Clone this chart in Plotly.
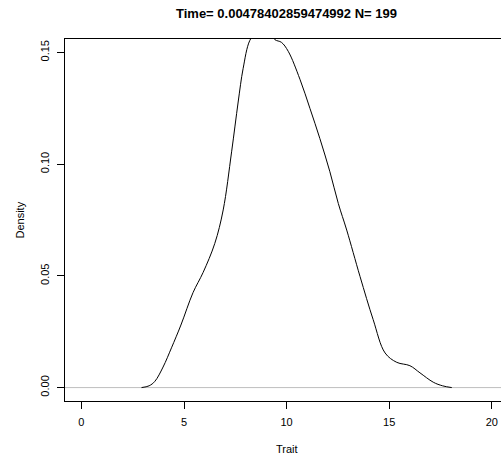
import plotly.graph_objects as go

# Density curve
trait = [2.93, 3.3, 3.58, 3.98, 4.39, 4.85, 5.44, 5.93, 6.5, 6.91, 7.32, 7.64, 7.88,
         8.21, 8.6, 8.9, 9.2, 9.43, 9.75, 10.08, 10.65, 11.14, 11.62, 12.11, 12.52, 12.93,
         13.58, 14.22, 14.80, 15.37, 16.01, 16.50, 17.15, 17.6, 18.05]
density = [0.0, 0.0008, 0.0028, 0.0092, 0.0178, 0.028, 0.0425, 0.0515, 0.0645, 0.0795,
           0.1055, 0.1278, 0.1427, 0.1554, 0.160, 0.161, 0.159, 0.1557, 0.1545, 0.1505, 0.138,
           0.1249, 0.1115, 0.0966, 0.0824, 0.0705, 0.0497, 0.0304, 0.0155, 0.0113, 0.0098,
           0.0066, 0.0024, 0.0008, 0.0]

x_ticks = [0, 5, 10, 15, 20]
y_ticks = [0.0, 0.05, 0.10, 0.15]
y_tick_labels = ["0.00", "0.05", "0.10", "0.15"]

title_text = "Time= 0.00478402859474992 N= 199"

FONT = "Liberation Sans, Arial, Helvetica, sans-serif"

fig = go.Figure()
fig.add_trace(go.Scatter(x=trait, y=density, mode="lines",
                         line=dict(color="black", width=1, shape="spline", smoothing=1.0),
                         hoverinfo="skip", showlegend=False))

fig.add_shape(type="line", xref="paper", yref="y", x0=0, x1=1, y0=0, y1=0,
              line=dict(color="#bebebe", width=1), layer="below")

fig.update_layout(
    width=501, height=456,
    margin=dict(l=65, r=0, t=39, b=55),
    paper_bgcolor="white", plot_bgcolor="white",
    font=dict(family=FONT, size=11, color="black"),
    showlegend=False,
    xaxis=dict(range=[-0.8, 20.45], tickmode="array", tickvals=x_ticks,
               ticks="outside", ticklen=7, tickwidth=1, tickcolor="black",
               showline=True, linecolor="black", linewidth=1, mirror=True,
               showgrid=False, zeroline=False, ticklabelstandoff=4,
               tickfont=dict(size=11, color="black", family=FONT)),
    yaxis=dict(range=[-0.006, 0.156], tickmode="array", tickvals=y_ticks,
               ticktext=y_tick_labels, tickangle=-90,
               ticks="outside", ticklen=7, tickwidth=1, tickcolor="black",
               showline=True, linecolor="black", linewidth=1, mirror=False,
               showgrid=False, zeroline=False, ticklabelstandoff=4,
               tickfont=dict(size=11, color="black", family=FONT)),
    annotations=[
        dict(text="<b>" + title_text + "</b>", xref="x", yref="paper", x=10, y=1 + 26 / 362,
             xanchor="center", yanchor="middle", showarrow=False,
             font=dict(size=13, family=FONT, color="black")),
        dict(text="Trait", xref="x", yref="paper", x=10, y=-48 / 362,
             xanchor="center", yanchor="middle", showarrow=False,
             font=dict(size=11, color="black")),
        dict(text="Density", xref="paper", yref="paper", x=(19.5 - 65) / 436, y=0.5,
             xanchor="center", yanchor="middle", textangle=-90, showarrow=False,
             font=dict(size=11, color="black")),
    ],
)

fig.write_html("out.html",
               config={"displayModeBar": False},
               post_script="document.body.style.margin='0px';"
                           "document.body.style.overflow='hidden';")
